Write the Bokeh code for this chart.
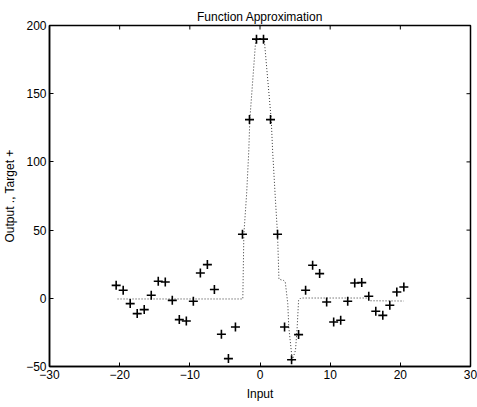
from bokeh.plotting import figure
from bokeh.models import FixedTicker, Range1d
from bokeh.embed import file_html
from bokeh.resources import INLINE

# Target points (+)
target_x = [-20.5, -19.5, -18.5, -17.5, -16.5, -15.5, -14.5, -13.5, -12.5, -11.5,
            -10.5, -9.5, -8.5, -7.5, -6.5, -5.5, -4.5, -3.5, -2.5, -1.5, -0.5,
            0.5, 1.5, 2.5, 3.5, 4.5, 5.5, 6.5, 7.5, 8.5, 9.5, 10.5, 11.5, 12.5,
            13.5, 14.5, 15.5, 16.5, 17.5, 18.5, 19.5, 20.5]
target_y = [9.5, 5.9, -3.9, -11.2, -8.3, 2.2, 12.5, 12.0, -1.5, -15.6,
            -16.6, -2.2, 18.6, 24.7, 6.4, -26.4, -44.2, -21.0, 47.0, 131.0, 190.0,
            190.0, 131.0, 47.0, -21.0, -45.0, -26.6, 5.9, 24.2, 18.1, -2.7, -17.4, -16.1, -2.2,
            11.2, 11.5, 1.5, -9.5, -12.5, -5.1, 4.6, 8.3]

# Network output (dotted line)
output_x = [-20.3, -2.45, -2.3, -1.9, -1.6, -1.45, -0.6, 0.6, 1.6, 1.8, 2.2, 2.5,
            2.7, 3.4, 3.6, 3.96, 4.1, 4.6, 5.06, 5.3, 5.5, 5.8, 15.3, 15.7, 20.5]
output_y = [-0.5, -0.5, 47, 77, 108, 131, 190, 190, 131, 108, 72, 47,
            14, 13, 12, -4, -21, -45.5, -38, -21, -1.5, 0.2, 0.2, -1.8, -2.0]

x_ticks = [-30, -20, -10, 0, 10, 20, 30]
y_ticks = [-50, 0, 50, 100, 150, 200]
x_lo, x_hi = -30, 30
y_lo, y_hi = -50, 200

FONT = "Liberation Sans"
W, H = 477, 407
BL, BR, BT, BB = 49, 7, 25, 41

p = figure(width=W, height=H, output_backend="svg", toolbar_location=None,
           x_range=Range1d(x_lo, x_hi), y_range=Range1d(y_lo, y_hi),
           min_border_left=BL, min_border_right=BR, min_border_top=BT, min_border_bottom=BB,
           title="Function Approximation", x_axis_label="Input",
           y_axis_label="Output ., Target +")

p.title.align = "center"
p.title.text_font = FONT
p.title.text_font_size = "12px"
p.title.text_font_style = "normal"
p.title.text_color = "black"
p.title.standoff = 4

p.grid.visible = False
p.outline_line_color = "black"
p.outline_line_width = 1.5

for ax, ticks in ((p.xaxis[0], x_ticks), (p.yaxis[0], y_ticks)):
    ax.ticker = FixedTicker(ticks=ticks)
    ax.major_tick_in = 4
    ax.major_tick_out = 0
    ax.minor_tick_line_color = None
    ax.axis_line_width = 1.5
    ax.axis_line_color = "black"
    ax.major_tick_line_color = "black"
    ax.major_label_text_font = FONT
    ax.major_label_text_font_size = "12px"
    ax.major_label_text_color = "black"
    ax.axis_label_text_font = FONT
    ax.axis_label_text_font_size = "12px"
    ax.axis_label_text_font_style = "normal"
    ax.axis_label_text_color = "black"
    ax.major_label_standoff = 3
p.xaxis.axis_label_standoff = 5
p.yaxis.axis_label_standoff = 6

# inward ticks on the top and right edges of the box (MATLAB style)
frame_w = W - BL - BR
frame_h = H - BT - BB
dx = 4 * (x_hi - x_lo) / frame_w
dy = 4 * (y_hi - y_lo) / frame_h
p.segment(x0=x_ticks, y0=[y_hi] * len(x_ticks), x1=x_ticks, y1=[y_hi - dy] * len(x_ticks),
          line_color="black", line_width=1)
p.segment(x0=[x_hi] * len(y_ticks), y0=y_ticks, x1=[x_hi - dx] * len(y_ticks), y1=y_ticks,
          line_color="black", line_width=1)

p.line(output_x, output_y, line_color="#333333", line_dash="1 2", line_width=1)
p.scatter(target_x, target_y, marker="cross", size=9, line_color="black", line_width=1.6)

open("out.html", "w").write(file_html(p, INLINE))
